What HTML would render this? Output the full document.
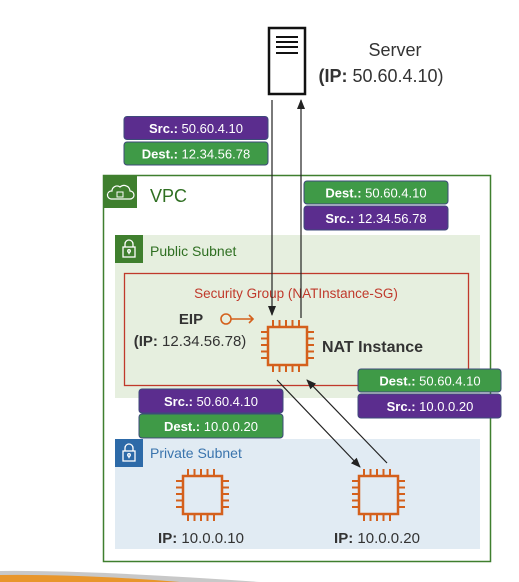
<!DOCTYPE html>
<html><head><meta charset="utf-8"><style>
body{margin:0;background:#fff;}
svg{display:block;font-family:"Liberation Sans",sans-serif;}
</style></head><body>
<svg width="519" height="582" viewBox="0 0 519 582" xmlns="http://www.w3.org/2000/svg">
<defs>
<marker id="ah" markerWidth="10" markerHeight="10" refX="9" refY="5" orient="auto" markerUnits="userSpaceOnUse">
<path d="M0,1 L10,5 L0,9 Z" fill="#222"/></marker>
<g id="chip">
<rect x="7" y="7" width="39" height="38" fill="none" stroke="#d4601c" stroke-width="2.5"/>
<g stroke="#d4601c" stroke-width="2">
<path d="M12,0v7M18.5,0v7M25,0v7M31.5,0v7M38,0v7M12,45v7M18.5,45v7M25,45v7M31.5,45v7M38,45v7"/>
<path d="M0,12h7M0,18.5h7M0,25h7M0,31.5h7M0,38h7M46,12h7M46,18.5h7M46,25h7M46,31.5h7M46,38h7"/>
</g></g>
<g id="lock" fill="none" stroke="#fff" stroke-width="1.3">
<rect x="8" y="12" width="12" height="10"/><path d="M10,12v-3a4,4 0 0 1 8,0v3"/><circle cx="14" cy="16" r="1.3"/><path d="M14,17.3v2"/></g>
</defs>
<!-- bottom swoosh -->
<path d="M0,571 Q90,570 260,582 L0,582 Z" fill="#c8c8c8"/>
<path d="M0,575 Q80,574 180,582 L0,582 Z" fill="#e8962c"/>
<!-- server -->
<rect x="269" y="28" width="36" height="66" fill="#fff" stroke="#111" stroke-width="2.5"/>
<path d="M276,37h22M276,42h22M276,47h22M276,53h22" stroke="#111" stroke-width="2"/>
<text x="395" y="56" text-anchor="middle" font-size="18" fill="#333">Server</text>
<text x="381" y="82" text-anchor="middle" font-size="18" fill="#333"><tspan font-weight="bold">(IP:</tspan> 50.60.4.10)</text>
<!-- VPC -->
<rect x="103.5" y="175.5" width="387" height="386" fill="none" stroke="#3f7f2e" stroke-width="1.5"/>
<rect x="103" y="175" width="34" height="33" fill="#3f7f2e"/>
<path d="M111,199 h19 a4,4 0 0 0 0-8 a6,6 0 0 0-10-4 a5,5 0 0 0-8,4 a4,4 0 0 0-1,8z" fill="none" stroke="#fff" stroke-width="1.2"/>
<rect x="117" y="192" width="6" height="5" fill="none" stroke="#fff" stroke-width="1"/>
<text x="150" y="202" font-size="18" fill="#2f6f22">VPC</text>
<!-- public subnet -->
<rect x="115" y="235" width="365" height="163" fill="#e6efdf"/>
<rect x="115" y="235" width="28" height="28" fill="#3f7f2e"/>
<use href="#lock" x="115" y="235"/>
<text x="150" y="256" font-size="14" fill="#2f6f22">Public Subnet</text>
<rect x="124.5" y="273.5" width="344" height="112" fill="none" stroke="#c0392b" stroke-width="1.3"/>
<text x="296" y="298" text-anchor="middle" font-size="13.5" fill="#c0392b">Security Group (NATInstance-SG)</text>
<text x="191" y="324" text-anchor="middle" font-size="15" font-weight="bold" fill="#333">EIP</text>
<text x="190" y="346" text-anchor="middle" font-size="15" fill="#333"><tspan font-weight="bold">(IP:</tspan> 12.34.56.78)</text>
<circle cx="226" cy="319" r="5" fill="none" stroke="#d4601c" stroke-width="1.6"/>
<path d="M231,319h22M249,315l4,4l-4,4" fill="none" stroke="#d4601c" stroke-width="1.6"/>
<use href="#chip" x="261" y="320"/>
<text x="322" y="352" font-size="16" font-weight="bold" fill="#333">NAT Instance</text>
<!-- private subnet -->
<rect x="115" y="439" width="365" height="110" fill="#e1ebf3"/>
<rect x="115" y="439" width="28" height="28" fill="#2d6aa8"/>
<use href="#lock" x="115" y="439"/>
<text x="150" y="458" font-size="14" fill="#3a74ad">Private Subnet</text>
<use href="#chip" x="176" y="469"/>
<use href="#chip" x="352" y="469"/>
<text x="201" y="543" text-anchor="middle" font-size="15" fill="#333"><tspan font-weight="bold">IP:</tspan> 10.0.0.10</text>
<text x="377" y="543" text-anchor="middle" font-size="15" fill="#333"><tspan font-weight="bold">IP:</tspan> 10.0.0.20</text>
<!-- arrows -->
<g stroke="#222" stroke-width="1.2" fill="none">
<line x1="272" y1="100" x2="272" y2="315" marker-end="url(#ah)"/>
<line x1="301" y1="318" x2="301" y2="100" marker-end="url(#ah)"/>
<line x1="277" y1="380" x2="360" y2="467" marker-end="url(#ah)"/>
<line x1="387" y1="463" x2="307" y2="380" marker-end="url(#ah)"/>
</g>
<!-- labels -->
<g font-size="13" fill="#fff" text-anchor="middle">
<rect x="124" y="116.5" width="144" height="23" rx="3" fill="#5b2d8e" stroke="#3d4a7a"/>
<text x="196" y="133"><tspan font-weight="bold">Src.:</tspan> 50.60.4.10</text>
<rect x="124" y="142" width="144" height="23" rx="3" fill="#3f9a47" stroke="#3d4a7a"/>
<text x="196" y="158.5"><tspan font-weight="bold">Dest.:</tspan> 12.34.56.78</text>
<rect x="304" y="181" width="144" height="23" rx="3" fill="#3f9a47" stroke="#3d4a7a"/>
<text x="376" y="197.5"><tspan font-weight="bold">Dest.:</tspan> 50.60.4.10</text>
<rect x="304" y="206" width="144" height="24" rx="3" fill="#5b2d8e" stroke="#3d4a7a"/>
<text x="376" y="223"><tspan font-weight="bold">Src.:</tspan> 12.34.56.78</text>
<rect x="358" y="369" width="143" height="23" rx="3" fill="#3f9a47" stroke="#3d4a7a"/>
<text x="430" y="385.5"><tspan font-weight="bold">Dest.:</tspan> 50.60.4.10</text>
<rect x="358" y="394" width="143" height="24" rx="3" fill="#5b2d8e" stroke="#3d4a7a"/>
<text x="430" y="411"><tspan font-weight="bold">Src.:</tspan> 10.0.0.20</text>
<rect x="139" y="389" width="144" height="24" rx="3" fill="#5b2d8e" stroke="#3d4a7a"/>
<text x="211" y="406"><tspan font-weight="bold">Src.:</tspan> 50.60.4.10</text>
<rect x="139" y="414" width="144" height="24" rx="3" fill="#3f9a47" stroke="#3d4a7a"/>
<text x="211" y="431"><tspan font-weight="bold">Dest.:</tspan> 10.0.0.20</text>
</g>
</svg>
</body></html>
